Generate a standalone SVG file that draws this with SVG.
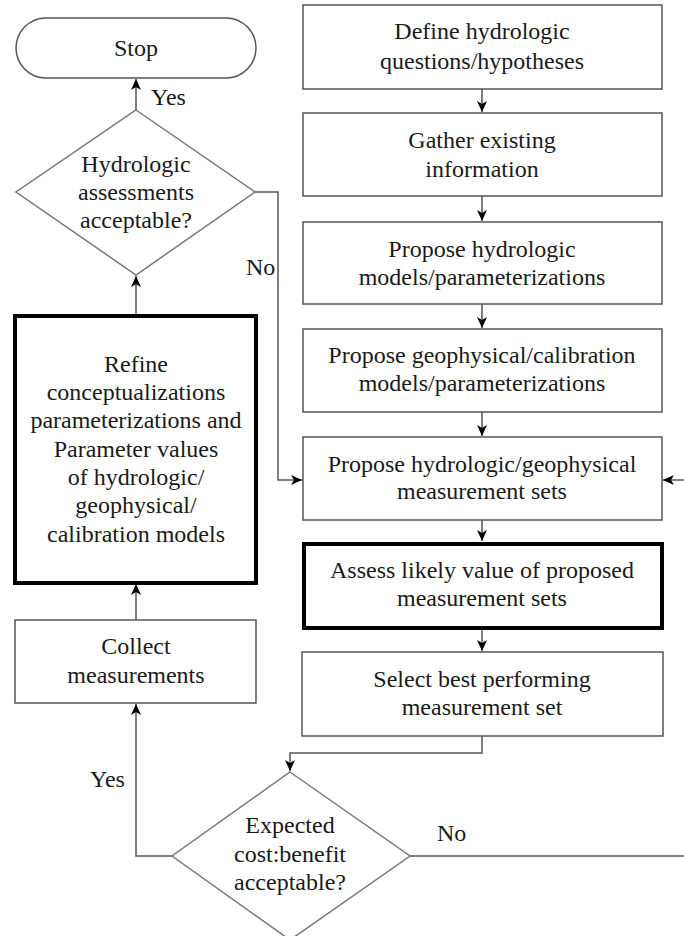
<svg xmlns="http://www.w3.org/2000/svg" width="684" height="936" viewBox="0 0 684 936">
<defs>
<style>
text{font-family:"Liberation Serif","Times New Roman",serif;font-size:24px;fill:#1a1a1a;text-anchor:middle}
.lbl{text-anchor:start}
.box{fill:#fff;stroke:#555;stroke-width:1.5}
.thick{fill:#fff;stroke:#000;stroke-width:4}
.dia{fill:#fff;stroke:#777;stroke-width:1.5}
.c{fill:none;stroke:#555;stroke-width:1.5}
</style>
<marker id="ah" markerUnits="userSpaceOnUse" markerWidth="12" markerHeight="12" viewBox="0 0 12 12" refX="11" refY="6" orient="auto">
<path d="M0,1 L11,6 L0,11 L3,6 Z" fill="#000"/>
</marker>
</defs>
<rect width="684" height="936" fill="#fff"/>

<g id="connectors">
<line class="c" x1="136" y1="110" x2="136" y2="79" marker-end="url(#ah)"/>
<polyline class="c" points="254,192 278,192 278,480 302,480" marker-end="url(#ah)"/>
<line class="c" x1="136" y1="620" x2="136" y2="584" marker-end="url(#ah)"/>
<line class="c" x1="136" y1="316" x2="136" y2="276" marker-end="url(#ah)"/>
<line class="c" x1="482" y1="89" x2="482" y2="112" marker-end="url(#ah)"/>
<line class="c" x1="482" y1="196" x2="482" y2="221" marker-end="url(#ah)"/>
<line class="c" x1="482" y1="304" x2="482" y2="328" marker-end="url(#ah)"/>
<line class="c" x1="482" y1="412" x2="482" y2="436" marker-end="url(#ah)"/>
<line class="c" x1="482" y1="520" x2="482" y2="541" marker-end="url(#ah)"/>
<line class="c" x1="482" y1="630" x2="482" y2="651" marker-end="url(#ah)"/>
<polyline class="c" points="482,736 482,753 290,753 290,771" marker-end="url(#ah)"/>
<polyline class="c" points="172,856 136,856 136,704" marker-end="url(#ah)"/>
<line class="c" x1="410" y1="856" x2="684" y2="856"/>
<line class="c" x1="684" y1="480" x2="663" y2="480" marker-end="url(#ah)"/>
<text class="lbl" x="151" y="105">Yes</text>
<text class="lbl" x="246" y="275">No</text>
<text class="lbl" x="90" y="787">Yes</text>
<text class="lbl" x="437" y="841">No</text>
</g>

<g id="stop">
<rect x="16" y="18" width="240" height="60" rx="30" ry="30" class="box"/>
<text x="136" y="56">Stop</text>
</g>

<g id="decision-hydro">
<polygon class="dia" points="136,110 255,192 136,275 16,192"/>
<text x="136" y="172">Hydrologic</text>
<text x="136" y="200">assessments</text>
<text x="136" y="228">acceptable?</text>
</g>

<g id="refine">
<rect x="15" y="316" width="241" height="267" class="thick"/>
<text x="136" y="372">Refine</text>
<text x="136" y="400">conceptualizations</text>
<text x="136" y="428">parameterizations and</text>
<text x="136" y="457">Parameter values</text>
<text x="136" y="485">of hydrologic/</text>
<text x="136" y="513">geophysical/</text>
<text x="136" y="542">calibration models</text>
</g>

<g id="collect">
<rect x="15" y="620" width="241" height="83" class="box"/>
<text x="136" y="654">Collect</text>
<text x="136" y="683">measurements</text>
</g>

<g id="define">
<rect x="303" y="5" width="359" height="84" class="box"/>
<text x="482" y="39">Define hydrologic</text>
<text x="482" y="69">questions/hypotheses</text>
</g>

<g id="gather">
<rect x="303" y="113" width="359" height="83" class="box"/>
<text x="482" y="148">Gather existing</text>
<text x="482" y="177">information</text>
</g>

<g id="propose-hydro">
<rect x="303" y="222" width="359" height="82" class="box"/>
<text x="482" y="257">Propose hydrologic</text>
<text x="482" y="285">models/parameterizations</text>
</g>

<g id="propose-geo">
<rect x="303" y="329" width="359" height="83" class="box"/>
<text x="482" y="363">Propose geophysical/calibration</text>
<text x="482" y="391">models/parameterizations</text>
</g>

<g id="propose-sets">
<rect x="303" y="437" width="359" height="83" class="box"/>
<text x="482" y="472">Propose hydrologic/geophysical</text>
<text x="482" y="499">measurement sets</text>
</g>

<g id="assess">
<rect x="304" y="544" width="358" height="84" class="thick"/>
<text x="482" y="578">Assess likely value of proposed</text>
<text x="482" y="606">measurement sets</text>
</g>

<g id="select">
<rect x="302" y="652" width="361" height="84" class="box"/>
<text x="482" y="687">Select best performing</text>
<text x="482" y="715">measurement set</text>
</g>

<g id="decision-cost">
<polygon class="dia" points="290,772 410,856 290,940 172,856"/>
<text x="290" y="833">Expected</text>
<text x="290" y="862">cost:benefit</text>
<text x="290" y="890">acceptable?</text>
</g>
</svg>
